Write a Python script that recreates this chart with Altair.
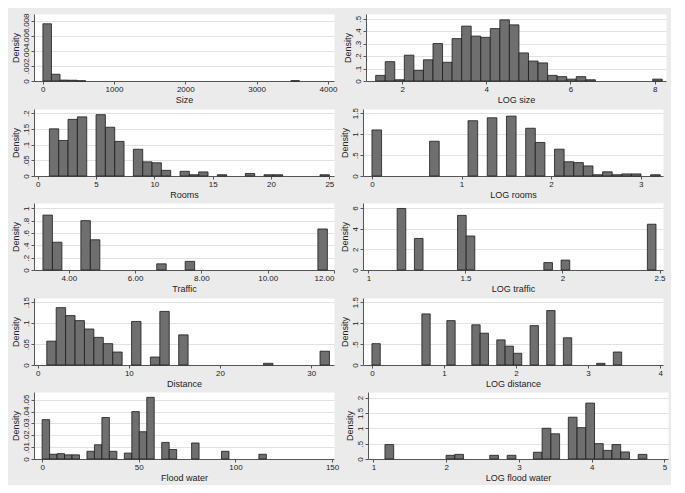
import altair as alt
import pandas as pd

# ---- data: 30-bin density histograms ----
size_range = (4, 3600)
size_density = [0.0076, 0.0009, 0.00012, 0.0001, 0.00003] + [0] * 24 + [0.00004]

logsize_range = (1.37, 8.18)
logsize_density = [0.045, 0.155, 0.01, 0.207, 0.085, 0.17, 0.30, 0.15, 0.34, 0.44,
                   0.36, 0.35, 0.42, 0.49, 0.45, 0.225, 0.16, 0.145, 0.045, 0.035,
                   0.015, 0.035, 0.01, 0, 0, 0, 0, 0, 0, 0.015]

rooms_range = (1, 25)
rooms_density = [0.15, 0.113, 0.18, 0.188, 0, 0.195, 0.155, 0.11, 0, 0.085,
                 0.045, 0.042, 0.018, 0, 0.015, 0.004, 0.013, 0, 0.004, 0,
                 0, 0.008, 0, 0.004, 0.004, 0, 0, 0, 0, 0.004]

logrooms_range = (0, 3.219)
logrooms_density = [1.10, 0, 0, 0, 0, 0, 0.83, 0, 0, 0,
                    1.32, 0, 1.39, 0, 1.43, 0, 1.14, 0.80, 0, 0.64,
                    0.34, 0.32, 0.24, 0.03, 0.10, 0.03, 0.05, 0.05, 0, 0.03]

traffic_range = (3.22, 11.8)
traffic_density = [0.89, 0.45, 0, 0, 0.8, 0.49, 0, 0, 0, 0,
                   0, 0, 0.1, 0, 0, 0.14, 0, 0, 0, 0,
                   0, 0, 0, 0, 0, 0, 0, 0, 0, 0.665]

logtraffic_range = (1.148, 2.482)
logtraffic_density = [5.97, 0, 3.06, 0, 0, 0, 0, 5.3, 3.3, 0,
                      0, 0, 0, 0, 0, 0, 0, 0.72, 0, 0.96,
                      0, 0, 0, 0, 0, 0, 0, 0, 0, 4.44]

distance_range = (1, 32)
distance_density = [0.057, 0.137, 0.118, 0.106, 0.086, 0.066, 0.051, 0.031, 0, 0.104,
                    0, 0.019, 0.128, 0, 0.072, 0, 0, 0, 0, 0,
                    0, 0, 0, 0.004, 0, 0, 0, 0, 0, 0.033]

logdistance_range = (0, 3.466)
logdistance_density = [0.51, 0, 0, 0, 0, 0, 1.22, 0, 0, 1.06,
                       0, 0, 0.96, 0.76, 0, 0.6, 0.45, 0.28, 0, 0.94,
                       0, 1.3, 0, 0.65, 0, 0, 0, 0.04, 0, 0.31]

flood_range = (0, 116)
flood_density = [0.0332, 0.004, 0.0045, 0.0035, 0.0035, 0, 0.0065, 0.012, 0.035, 0.0065,
                 0, 0.005, 0.040, 0.023, 0.052, 0, 0.014, 0.008, 0, 0,
                 0.0135, 0, 0, 0, 0.0065, 0, 0, 0, 0, 0.004]

logflood_range = (1.158, 4.76)
logflood_density = [0.47, 0, 0, 0, 0, 0, 0, 0.12, 0.15, 0,
                    0, 0, 0.12, 0, 0.12, 0, 0, 0.22, 1.0, 0.82,
                    0, 1.36, 1.02, 1.82, 0.5, 0.28, 0.47, 0.23, 0, 0.15]

# axis tick labels
size_xticks = [0, 1000, 2000, 3000, 4000]
logsize_xticks = [2, 4, 6, 8]
rooms_xticks = [0, 5, 10, 15, 20, 25]
logrooms_xticks = [0, 1, 2, 3]
traffic_xticks = [4, 6, 8, 10, 12]
logtraffic_xticks = [1, 1.5, 2, 2.5]
distance_xticks = [0, 10, 20, 30]
logdistance_xticks = [0, 1, 2, 3, 4]
flood_xticks = [0, 50, 100, 150]
logflood_xticks = [1, 2, 3, 4, 5]

size_yticks = [0, 0.002, 0.004, 0.006, 0.008]
logsize_yticks = [0, 0.1, 0.2, 0.3, 0.4, 0.5]
rooms_yticks = [0, 0.05, 0.1, 0.15, 0.2]
logrooms_yticks = [0, 0.5, 1, 1.5]
traffic_yticks = [0, 0.2, 0.4, 0.6, 0.8, 1]
logtraffic_yticks = [0, 2, 4, 6]
distance_yticks = [0, 0.05, 0.1, 0.15]
logdistance_yticks = [0, 0.5, 1, 1.5]
flood_yticks = [0, 0.01, 0.02, 0.03, 0.04, 0.05]
logflood_yticks = [0, 0.5, 1, 1.5, 2]

W = 300
H = 67
FILL = "#6f6f6f"
EDGE = "#1c1c1c"

YLABEL = "datum.value == 0 ? '0' : replace(format(datum.value, '~g'), '0.', '.')"


def panel(rng, dens, title, xdom, xticks, xfmt, yticks, ytop):
    lo, hi = rng
    w = (hi - lo) / len(dens)
    df = pd.DataFrame({
        "x0": [lo + i * w for i in range(len(dens))],
        "x1": [lo + (i + 1) * w for i in range(len(dens))],
        "d": dens,
    })
    df = df[df["d"] > 0]
    return alt.Chart(df).mark_rect(fill=FILL, stroke=EDGE, strokeWidth=0.8).encode(
        x=alt.X("x0:Q",
                scale=alt.Scale(domain=xdom, nice=False, zero=False),
                axis=alt.Axis(values=xticks, format=xfmt, title=title, grid=False,
                              labelOverlap=False)),
        x2="x1:Q",
        y=alt.Y("d:Q",
                scale=alt.Scale(domain=[0, ytop], nice=False, zero=True),
                axis=alt.Axis(values=yticks, title="Density", labelExpr=YLABEL,
                              labelOverlap=False)),
        y2=alt.datum(0),
    ).properties(width=W, height=H)


p1 = panel(size_range, size_density, "Size", [-121, 4085], size_xticks, "d", size_yticks, 0.0089)
p2 = panel(logsize_range, logsize_density, "LOG size", [1.14, 8.27], logsize_xticks, "d", logsize_yticks, 0.537)
p3 = panel(rooms_range, rooms_density, "Rooms", [-0.32, 25.4], rooms_xticks, "d", rooms_yticks, 0.213)
p4 = panel(logrooms_range, logrooms_density, "LOG rooms", [-0.1, 3.25], logrooms_xticks, "d", logrooms_yticks, 1.6)
p5 = panel(traffic_range, traffic_density, "Traffic", [2.95, 12.0], traffic_xticks, ".2f", traffic_yticks, 1.086)
p6 = panel(logtraffic_range, logtraffic_density, "LOG traffic", [0.972, 2.518], logtraffic_xticks, "~g", logtraffic_yticks, 6.5)
p7 = panel(distance_range, distance_density, "Distance", [-0.4, 32.5], distance_xticks, "d", distance_yticks, 0.16)
p8 = panel(logdistance_range, logdistance_density, "LOG distance", [-0.124, 4.04], logdistance_xticks, "d", logdistance_yticks, 1.6)
p9 = panel(flood_range, flood_density, "Flood water", [-4.2, 151], flood_xticks, "d", flood_yticks, 0.0565)
p10 = panel(logflood_range, logflood_density, "LOG flood water", [0.925, 5.05], logflood_xticks, "d", logflood_yticks, 2.18)

rows = [alt.hconcat(a, b, spacing=4) for a, b in [(p1, p2), (p3, p4), (p5, p6), (p7, p8), (p9, p10)]]

chart = alt.vconcat(*rows, spacing=2).properties(
    background="#ebebeb",
    padding={"left": 2, "right": 2, "top": 4, "bottom": 2},
).configure(
    font="Liberation Sans",
).configure_view(
    fill="white", stroke="transparent",
).configure_axis(
    labelFontSize=8, titleFontSize=9, titleFontWeight="normal",
    labelColor="#222222", titleColor="#222222",
    domainColor="#555555", tickColor="#555555", tickSize=3,
    gridColor="#e2e2e2", labelPadding=1, titlePadding=2,
).configure_axisY(
    labelAngle=270, labelAlign="center", labelBaseline="bottom", grid=True,
).configure_axisX(
    grid=False,
)

chart.save("out.html", embed_options={"renderer": "svg", "actions": False})
